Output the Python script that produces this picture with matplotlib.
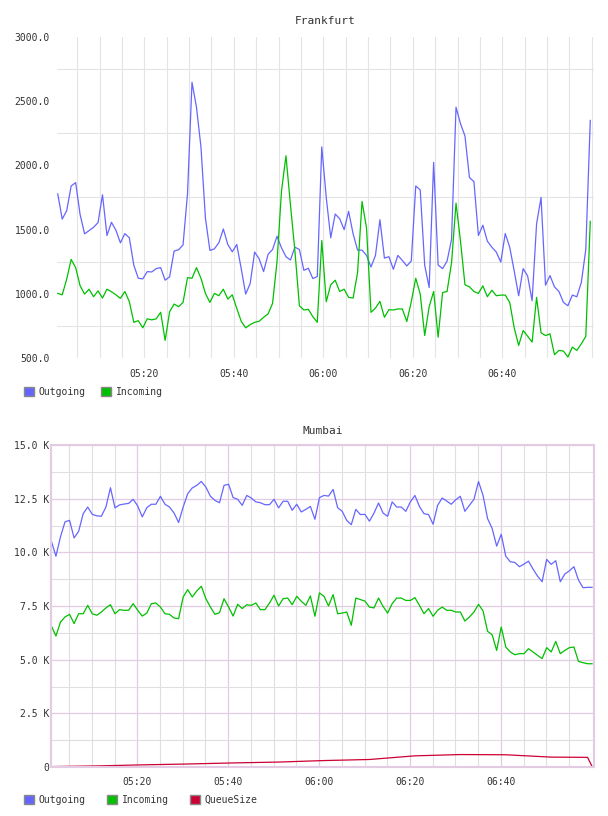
import numpy as np
import pandas as pd
import matplotlib
matplotlib.use("Agg")
import matplotlib.pyplot as plt
import matplotlib.dates as mdates
from matplotlib.patches import Patch
from matplotlib.ticker import FixedLocator, FuncFormatter

# Frankfurt: one sample per minute
fra_start = "2024-01-01 05:00:40"
fra_outgoing = [1778, 1582, 1647, 1840, 1866, 1616, 1467, 1492, 1518, 1554,
                1771, 1454, 1557, 1495, 1397, 1469, 1436, 1222, 1121, 1116,
                1173, 1170, 1196, 1204, 1106, 1132, 1333, 1343, 1381, 1780,
                2647, 2453, 2144, 1590, 1338, 1350, 1397, 1505, 1384, 1327,
                1384, 1196, 998, 1080, 1325, 1273, 1173, 1307, 1345, 1448,
                1358, 1289, 1263, 1363, 1345, 1183, 1199, 1119, 1134, 2144,
                1750, 1436, 1621, 1585, 1500, 1642, 1467, 1340, 1340, 1299,
                1209, 1299, 1577, 1278, 1289, 1191, 1299, 1260, 1217, 1255,
                1840, 1809, 1222, 1049, 2023, 1224, 1196, 1255, 1423, 2453,
                2325, 2229, 1905, 1874, 1454, 1534, 1410, 1363, 1325, 1247,
                1469, 1363, 1178, 985, 1196, 1139, 946, 1544, 1750, 1067,
                1142, 1054, 1018, 933, 907, 990, 977, 1088, 1345, 2350]
fra_incoming = [1003, 992, 1114, 1268, 1204, 1062, 998, 1036, 977, 1023,
                967, 1036, 1016, 992, 964, 1018, 938, 778, 791, 735,
                805, 797, 805, 856, 637, 861, 920, 900, 933, 1126,
                1121, 1204, 1121, 1003, 933, 1003, 985, 1036, 959, 992,
                887, 786, 735, 760, 778, 786, 817, 843, 925, 1250,
                1800, 2075, 1693, 1333, 907, 874, 879, 822, 778, 1415,
                938, 1070, 1106, 1018, 1036, 972, 967, 1165, 1719, 1513,
                856, 889, 941, 817, 876, 874, 882, 882, 784, 938,
                1121, 998, 675, 900, 1018, 662, 1010, 1018, 1242, 1706,
                1410, 1070, 1054, 1018, 1003, 1062, 977, 1028, 985, 990,
                990, 933, 735, 598, 714, 670, 624, 972, 696, 675,
                688, 526, 559, 554, 508, 585, 559, 611, 668, 1564]

# Mumbai: one sample per minute, values in thousands
mum_start = "2024-01-01 05:01:05"
mum_outgoing = [10.52, 9.82, 10.72, 11.42, 11.49, 10.67, 10.98, 11.80, 12.11, 11.77,
                11.70, 11.68, 12.11, 13.01, 12.07, 12.21, 12.25, 12.28, 12.47, 12.16,
                11.65, 12.08, 12.24, 12.24, 12.61, 12.24, 12.11, 11.83, 11.39, 12.11,
                12.73, 13.00, 13.12, 13.30, 13.04, 12.61, 12.42, 12.31, 13.12, 13.17,
                12.55, 12.47, 12.19, 12.65, 12.53, 12.35, 12.31, 12.22, 12.22, 12.47,
                12.07, 12.38, 12.38, 11.96, 12.24, 11.88, 12.00, 12.14, 11.54, 12.55,
                12.65, 12.62, 12.93, 12.08, 11.91, 11.49, 11.29, 12.00, 11.76, 11.77,
                11.45, 11.83, 12.30, 11.83, 11.68, 12.35, 12.11, 12.11, 11.91, 12.35,
                12.65, 12.14, 11.80, 11.76, 11.31, 12.19, 12.53, 12.39, 12.24, 12.45,
                12.61, 11.91, 12.19, 12.47, 13.30, 12.65, 11.57, 11.11, 10.29, 10.84,
                9.82, 9.56, 9.53, 9.33, 9.45, 9.59, 9.22, 8.89, 8.63, 9.67,
                9.44, 9.61, 8.63, 8.99, 9.14, 9.33, 8.71, 8.35, 8.37, 8.37]
mum_incoming = [6.57, 6.10, 6.75, 6.99, 7.11, 6.68, 7.14, 7.14, 7.53, 7.14,
                7.07, 7.22, 7.41, 7.56, 7.14, 7.33, 7.30, 7.30, 7.61, 7.30,
                7.03, 7.17, 7.61, 7.64, 7.45, 7.14, 7.11, 6.94, 6.91, 7.92,
                8.26, 7.92, 8.20, 8.42, 7.84, 7.45, 7.11, 7.19, 7.84, 7.45,
                7.03, 7.58, 7.38, 7.56, 7.53, 7.64, 7.33, 7.33, 7.64, 8.00,
                7.50, 7.84, 7.87, 7.56, 7.95, 7.72, 7.53, 7.97, 7.02, 8.11,
                7.95, 7.50, 8.03, 7.14, 7.17, 7.22, 6.60, 7.87, 7.80, 7.73,
                7.45, 7.41, 7.87, 7.48, 7.17, 7.61, 7.87, 7.87, 7.76, 7.76,
                7.89, 7.53, 7.14, 7.38, 7.02, 7.30, 7.45, 7.30, 7.30, 7.22,
                7.22, 6.80, 6.99, 7.22, 7.58, 7.27, 6.32, 6.16, 5.43, 6.52,
                5.59, 5.36, 5.23, 5.28, 5.28, 5.51, 5.36, 5.20, 5.05, 5.56,
                5.36, 5.85, 5.28, 5.43, 5.56, 5.59, 4.92, 4.86, 4.81, 4.81]
# queue size read at a few sample positions (minute index from mum_start)
queue_idx = [0, 10, 20, 30, 40, 50, 60, 70, 80, 90, 100, 110, 118, 119]
queue_size = [0.02, 0.05, 0.10, 0.14, 0.19, 0.23, 0.30, 0.35, 0.52, 0.58,
              0.57, 0.46, 0.45, 0.02]

tick_labels = ["05:20", "05:40", "06:00", "06:20", "06:40"]

BLUE = "#6666ff"
GREEN = "#00c000"
RED = "#cc0033"
TXT = "#333333"
GRAY = "#e4e4e4"
PINK = "#e3cbe3"
FONT = "DejaVu Sans Mono"

plt.rcParams["font.family"] = FONT
plt.rcParams["font.size"] = 7

fra_t = pd.date_range(fra_start, periods=len(fra_outgoing), freq="60s")
mum_t = pd.date_range(mum_start, periods=len(mum_outgoing), freq="60s")
q_t = mum_t[queue_idx]
major_t = [pd.Timestamp("2024-01-01 " + s) for s in tick_labels]

fig = plt.figure(figsize=(6.08, 8.16), dpi=100)

# ---------------- Frankfurt ----------------
ax1 = fig.add_axes([57 / 608, 1 - 358 / 816, 537 / 608, 321 / 816])
ax1.plot(fra_t, fra_outgoing, color=BLUE, lw=0.9)
ax1.plot(fra_t, fra_incoming, color=GREEN, lw=0.9)
ax1.set_xlim(pd.Timestamp("2024-01-01 05:00:30"), pd.Timestamp("2024-01-01 07:00:30"))
ax1.set_ylim(500, 3000)
ax1.set_yticks(np.arange(500, 3001, 500))
ax1.yaxis.set_minor_locator(FixedLocator(np.arange(750, 3000, 500)))
ax1.yaxis.set_major_formatter(FuncFormatter(lambda v, p: f"{v:.1f}"))
ax1.set_xticks(major_t)
ax1.set_xticklabels(tick_labels)
ax1.xaxis.set_minor_locator(mdates.MinuteLocator(byminute=range(0, 60, 5)))
ax1.grid(True, which="both", axis="x", color=GRAY, lw=0.8)
ax1.grid(True, which="minor", axis="y", color=GRAY, lw=0.8)
ax1.set_axisbelow(True)
for s in ax1.spines.values():
    s.set_visible(False)
ax1.tick_params(which="both", length=0, colors=TXT)
ax1.tick_params(axis="x", pad=8)
ax1.tick_params(axis="y", pad=5)
ax1.set_title("Frankfurt", fontsize=8, color=TXT, pad=9)

fig.legend(handles=[Patch(facecolor=BLUE, edgecolor="#888888", label="Outgoing"),
                    Patch(facecolor=GREEN, edgecolor="#888888", label="Incoming")],
           loc="center left", bbox_to_anchor=(24 / 608, 1 - 392 / 816), ncol=2,
           frameon=False, handlelength=1.0, handleheight=1.0, handletextpad=0.5,
           columnspacing=1.6, borderpad=0, borderaxespad=0, labelcolor=TXT)

# ---------------- Mumbai ----------------
ax2 = fig.add_axes([51 / 608, 1 - 767 / 816, 543 / 608, 322 / 816])
ax2.plot(mum_t, np.array(mum_outgoing) * 1000, color=BLUE, lw=0.9)
ax2.plot(mum_t, np.array(mum_incoming) * 1000, color=GREEN, lw=0.9)
ax2.plot(q_t, np.array(queue_size) * 1000, color=RED, lw=0.9)
ax2.set_xlim(pd.Timestamp("2024-01-01 05:01:00"), pd.Timestamp("2024-01-01 07:00:30"))
ax2.set_ylim(0, 15000)
ax2.set_yticks(np.arange(0, 15001, 2500))
ax2.yaxis.set_minor_locator(FixedLocator(np.arange(1250, 15000, 2500)))
ax2.yaxis.set_major_formatter(FuncFormatter(lambda v, p: "0" if v == 0 else f"{v / 1000:.1f} K"))
ax2.set_xticks(major_t)
ax2.set_xticklabels(tick_labels)
ax2.xaxis.set_minor_locator(mdates.MinuteLocator(byminute=[5, 10, 15, 25, 30, 35, 45, 50, 55]))
ax2.grid(True, which="minor", color="#e2dde2", lw=0.8)
ax2.grid(True, which="major", color=PINK, lw=0.9)
ax2.set_axisbelow(True)
for s in ax2.spines.values():
    s.set_color(PINK)
    s.set_linewidth(1.5)
ax2.tick_params(which="both", length=0, colors=TXT)
ax2.tick_params(axis="x", pad=7)
ax2.tick_params(axis="y", pad=1)
ax2.set_title("Mumbai", fontsize=8, color=TXT, pad=8)

fig.legend(handles=[Patch(facecolor=BLUE, edgecolor="#888888", label="Outgoing"),
                    Patch(facecolor=GREEN, edgecolor="#888888", label="Incoming"),
                    Patch(facecolor=RED, edgecolor="#888888", label="QueueSize")],
           loc="center left", bbox_to_anchor=(24 / 608, 1 - 800 / 816), ncol=3,
           frameon=False, handlelength=1.0, handleheight=1.0, handletextpad=0.5,
           columnspacing=2.2, borderpad=0, borderaxespad=0, labelcolor=TXT)

fig.savefig("out.png", dpi=100)
